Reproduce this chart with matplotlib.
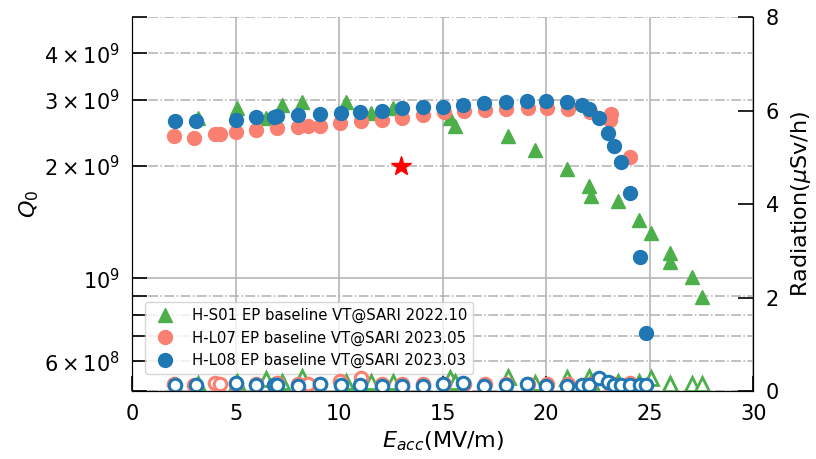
import matplotlib
matplotlib.use("Agg")
import matplotlib.pyplot as plt

# H-S01 EP baseline VT@SARI 2022.10
e_s01 = [3.2, 5.05, 6.45, 7.25, 8.2, 10.35, 11.55, 12.6, 15.35, 15.6, 18.15, 19.45,
         21.0, 22.05, 22.15, 23.45, 24.5, 25.05, 26.0, 26.0, 27.05, 27.55]
q_s01 = [2.68e9, 2.86e9, 2.68e9, 2.90e9, 2.96e9, 2.96e9, 2.77e9, 2.85e9, 2.68e9, 2.55e9,
         2.40e9, 2.20e9, 1.96e9, 1.77e9, 1.66e9, 1.61e9, 1.43e9, 1.32e9, 1.17e9, 1.105e9,
         1.01e9, 0.894e9]
r_s01 = [0.15, 0.2, 0.25, 0.2, 0.31, 0.2, 0.2, 0.2, 0.27, 0.2, 0.31, 0.18,
         0.27, 0.31, 0.2, 0.2, 0.2, 0.27, 0.15, 0.15, 0.15, 0.15]

# H-L07 EP baseline VT@SARI 2023.05
e_l07 = [2.0, 3.0, 4.0, 4.25, 5.0, 6.0, 7.0, 8.0, 8.5, 9.05, 10.05, 11.05, 12.05,
         13.05, 14.05, 15.05, 16.05, 17.05, 18.05, 19.1, 20.05, 21.05, 22.1, 23.15,
         23.1, 24.05]
q_l07 = [2.40e9, 2.38e9, 2.44e9, 2.44e9, 2.47e9, 2.49e9, 2.52e9, 2.54e9, 2.56e9, 2.56e9,
         2.60e9, 2.63e9, 2.66e9, 2.69e9, 2.74e9, 2.78e9, 2.81e9, 2.82e9, 2.84e9, 2.85e9,
         2.85e9, 2.84e9, 2.79e9, 2.75e9, 2.66e9, 2.11e9]
r_l07 = [0.16, 0.14, 0.18, 0.15, 0.15, 0.15, 0.17, 0.15, 0.15, 0.15, 0.22, 0.27, 0.15,
         0.15, 0.15, 0.15, 0.15, 0.15, 0.15, 0.15, 0.15, 0.15, 0.15, 0.18, 0.15, 0.18]

# H-L08 EP baseline VT@SARI 2023.03
e_l08 = [2.05, 3.1, 5.0, 6.0, 6.85, 7.0, 8.0, 9.05, 10.1, 11.0, 12.05, 13.05, 14.05,
         15.0, 16.0, 17.0, 18.05, 19.05, 20.0, 21.0, 21.75, 22.05, 22.55, 23.0, 23.3,
         23.6, 24.05, 24.55, 24.8]
q_l08 = [2.64e9, 2.63e9, 2.65e9, 2.70e9, 2.70e9, 2.71e9, 2.73e9, 2.75e9, 2.77e9, 2.78e9,
         2.81e9, 2.85e9, 2.87e9, 2.88e9, 2.91e9, 2.94e9, 2.96e9, 2.99e9, 2.99e9, 2.97e9,
         2.90e9, 2.84e9, 2.69e9, 2.45e9, 2.26e9, 2.05e9, 1.69e9, 1.14e9, 0.716e9]
r_l08 = [0.13, 0.13, 0.18, 0.13, 0.13, 0.13, 0.11, 0.16, 0.13, 0.13, 0.11, 0.11, 0.11,
         0.16, 0.18, 0.11, 0.13, 0.15, 0.11, 0.11, 0.13, 0.13, 0.27, 0.2, 0.13, 0.13,
         0.13, 0.13, 0.13]

# spec point
e_spec = [13.0]
q_spec = [2.0e9]

green = "#4daf4a"
salmon = "#fa8072"
blue = "#1f77b4"

fig = plt.figure(figsize=(8.16, 4.59), dpi=100)
ax = fig.add_axes([0.162, 0.148, 0.761, 0.815])

ax.plot(e_s01, q_s01, "^", color=green, markersize=10, ls="none",
        label="H-S01 EP baseline VT@SARI 2022.10")
ax.plot(e_l07, q_l07, "o", color=salmon, markersize=10, ls="none",
        label="H-L07 EP baseline VT@SARI 2023.05")
ax.plot(e_l08, q_l08, "o", color=blue, markersize=10, ls="none",
        label="H-L08 EP baseline VT@SARI 2023.03")
ax.plot(e_spec, q_spec, "*", color="red", markersize=15, ls="none")

ax.set_yscale("log")
ax.set_ylim(5e8, 5e9)
ax.set_xlim(0, 30)
ax.set_xticks([0, 5, 10, 15, 20, 25, 30])
ax.grid(True, which="major", color="#b0b0b0", lw=1.1)
ax.grid(True, which="minor", axis="y", color="#b0b0b0", lw=1.1, ls="-.")
ax.tick_params(which="both", direction="in", length=11, width=1.2, labelsize=15, pad=9)
ax.set_xlabel("$E_{acc}$(MV/m)", fontsize=16)
ax.set_ylabel("$Q_0$", fontsize=16, labelpad=2)
ax.spines["top"].set_visible(False)

ax2 = ax.twinx()
ax2.plot(e_s01, r_s01, "^", color=green, mfc="white", mew=2, markersize=10, ls="none")
ax2.plot(e_l07, r_l07, "o", color=salmon, mfc="white", mew=2.2, markersize=9, ls="none")
ax2.plot(e_l08, r_l08, "o", color=blue, mfc="white", mew=2.2, markersize=9, ls="none")
ax2.set_ylim(0, 8)
ax2.set_yticks([0, 2, 4, 6, 8])
ax2.tick_params(direction="in", length=11, width=1.2, labelsize=15, pad=9)
ax2.set_ylabel("Radiation($\\mu$Sv/h)", fontsize=16, labelpad=7)
ax2.spines["top"].set_visible(False)

ax.legend(loc="lower left", bbox_to_anchor=(0.02, 0.045), borderaxespad=0,
          fontsize=10.7, framealpha=0.8)

fig.savefig("out.png", dpi=100)
